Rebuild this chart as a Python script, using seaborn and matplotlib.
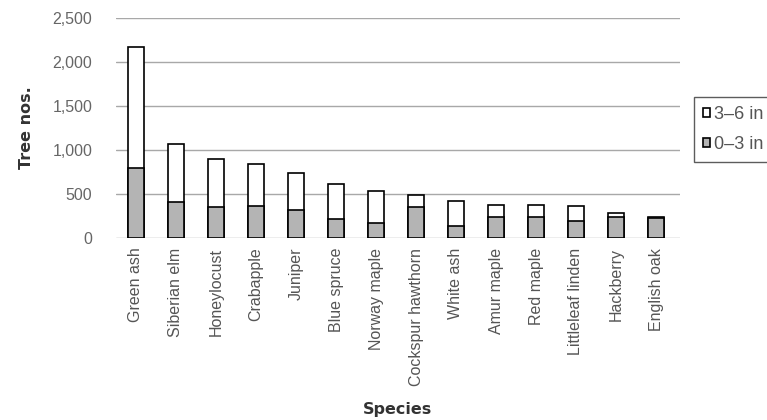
import seaborn as sns
import matplotlib.pyplot as plt
import pandas as pd

# Tree counts by species and diameter class
species = ["Green ash", "Siberian elm", "Honeylocust", "Crabapple", "Juniper",
           "Blue spruce", "Norway maple", "Cockspur hawthorn", "White ash",
           "Amur maple", "Red maple", "Littleleaf linden", "Hackberry", "English oak"]
small = [792, 406, 356, 367, 322, 219, 174, 352, 133, 235, 235, 197, 235, 224]
large = [1374, 659, 545, 470, 417, 391, 364, 140, 291, 140, 140, 167, 46, 18]

df = pd.DataFrame({"Species": species, "small": small, "large": large})
df["total"] = df["small"] + df["large"]

sns.set_theme(style="white")
plt.rcParams['font.family'] = ['Liberation Sans', 'DejaVu Sans']

fig = plt.figure(figsize=(7.67, 4.2), dpi=100)
ax = fig.add_axes([116 / 767, 1 - 238 / 420, 564 / 767, 220 / 420])

# stacked bars: total first (white), then lower class on top (grey)
sns.barplot(data=df, x="Species", y="total", color="white", edgecolor="black",
            linewidth=1.2, width=0.42, saturation=1, ax=ax, label="3\u20136 in")
sns.barplot(data=df, x="Species", y="small", color="#b4b4b4", edgecolor="black",
            linewidth=1.2, width=0.42, saturation=1, ax=ax, label="0\u20133 in")

ax.set_ylim(0, 2500)
ax.set_xlim(-0.5, 13.6)
ax.set_yticks(range(0, 2501, 500))
ax.set_yticklabels([f"{v:,}" for v in range(0, 2501, 500)])
ax.yaxis.grid(True, color="#a8a8a8", linewidth=1)
ax.set_axisbelow(True)
for s in ax.spines.values():
    s.set_visible(False)

ax.tick_params(axis="x", labelrotation=90, labelsize=11.5, colors="#555555", pad=7, length=0)
ax.tick_params(axis="y", labelsize=11.5, colors="#666666", pad=17, length=0)

ax.set_xlabel("Species", fontsize=11.5, fontweight="bold", color="#333333",
              family=['Liberation Sans Narrow', 'DejaVu Sans'], labelpad=12)
ax.set_ylabel("Tree nos.", fontsize=11.5, fontweight="bold", color="#333333",
              family=['Liberation Sans Narrow', 'DejaVu Sans'], labelpad=13)

# legend runs off the right edge, as in the source figure
handles, labels = ax.get_legend_handles_labels()
leg = ax.legend(handles, labels, loc="upper left", bbox_to_anchor=(1.025, 0.641),
                frameon=True, fancybox=False, edgecolor="#333333", fontsize=13,
                handlelength=0.4, handleheight=0.4, handletextpad=0.2,
                borderpad=0.5, labelspacing=0.7, borderaxespad=0)
for t in leg.get_texts():
    t.set_color("#555555")
leg.get_frame().set_linewidth(1)

fig.savefig("out.png", dpi=100)
